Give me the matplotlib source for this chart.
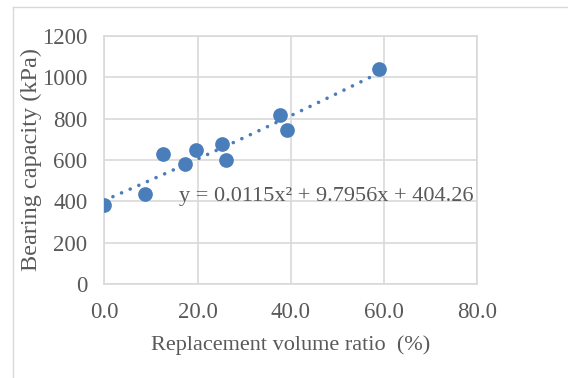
import numpy as np
import matplotlib.pyplot as plt
from matplotlib.lines import Line2D

# data
ratio = [0.0, 8.7, 12.5, 17.4, 19.7, 25.2, 26.2, 37.7, 39.2, 58.9]
capacity = [380, 437, 629, 581, 650, 677, 602, 818, 745, 1040]
coef = [0.0115, 9.7956, 404.26]
x_ticks = [0, 20, 40, 60, 80]
y_ticks = [0, 200, 400, 600, 800, 1000, 1200]

blue = '#4A7EBB'
grey_txt = '#595959'
grid_c = '#D9D9D9'

plt.rcParams['font.family'] = ['Liberation Serif', 'DejaVu Serif']

fig = plt.figure(figsize=(5.68, 3.78), dpi=100)
# outer chart frame (only top and left edges visible)
top = 1 - 7 / 378
left = 13 / 568
fig.lines.append(Line2D([left, 1], [top, top], transform=fig.transFigure, color=grid_c, lw=1.0))
fig.lines.append(Line2D([left, left], [0, top], transform=fig.transFigure, color=grid_c, lw=1.0))

ax = fig.add_axes([0.1836, 0.2487, 0.6567, 0.6561])

xs = np.linspace(0, max(ratio), 200)
ax.plot(xs, np.polyval(coef, xs), ls=(0, (0.01, 2.6)), lw=2.6, color=blue,
        dash_capstyle='round', zorder=2)
ax.scatter(ratio, capacity, s=112, color=blue, zorder=3, linewidths=0)

ax.set_xlim(0, 80)
ax.set_ylim(0, 1200)
ax.set_xticks(x_ticks)
ax.set_xticklabels([f'{v:.1f}' for v in x_ticks])
ax.set_yticks(y_ticks)
ax.grid(True, color=grid_c, lw=1.2)
ax.set_axisbelow(True)
for s in ax.spines.values():
    s.set_color(grid_c)
    s.set_linewidth(1.2)
ax.tick_params(length=0, labelsize=16.5, colors=grey_txt)
ax.tick_params(axis='y', pad=12)
ax.tick_params(axis='x', pad=13)

ax.set_xlabel('Replacement volume ratio  (%)', fontsize=16, color=grey_txt, labelpad=9)
ax.set_ylabel('Bearing capacity (kPa)', fontsize=17.5, color=grey_txt, labelpad=0)

ax.text(16.0, 421, 'y = 0.0115x² + 9.7956x + 404.26', fontsize=16,
        color=grey_txt, va='center', ha='left')

fig.savefig('out.png', dpi=100)
